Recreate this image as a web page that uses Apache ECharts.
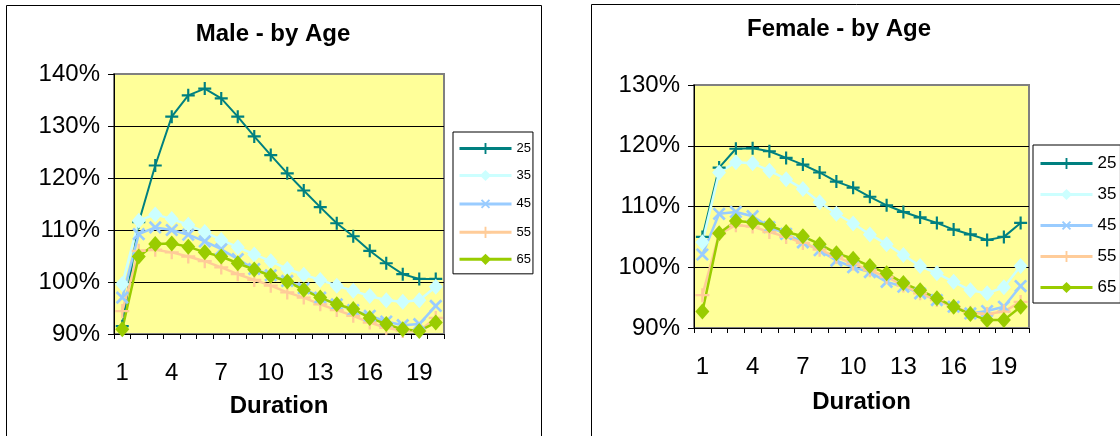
<!DOCTYPE html>
<html>
<head>
<meta charset="utf-8">
<script src="https://cdn.jsdelivr.net/npm/echarts@6/dist/echarts.min.js"></script>
<style>
  html, body { margin: 0; padding: 0; background: #fff; }
  #chart { width: 1120px; height: 436px; }
</style>
</head>
<body>
<div id="chart"></div>
<script>
// ---- data ----
const categories = ['1','2','3','4','5','6','7','8','9','10','11','12','13','14','15','16','17','18','19','20'];
const ageNames = ['25', '35', '45', '55', '65'];

const male25 = [91.5, 111.5, 122.4, 131.8, 135.9, 137.2, 135.3, 131.8, 128.0, 124.4, 120.9, 117.6, 114.4, 111.3, 108.8, 106.0, 103.6, 101.5, 100.6, 100.6];
const male35 = [99.6, 111.8, 113.0, 112.1, 111.0, 109.6, 108.1, 106.7, 105.3, 104.0, 102.5, 101.4, 100.4, 99.3, 98.3, 97.3, 96.5, 96.2, 96.5, 99.1];
const male45 = [97.0, 109.2, 110.5, 110.0, 109.1, 107.8, 106.3, 104.4, 102.5, 101.3, 100.2, 98.8, 97.0, 95.7, 94.6, 93.5, 92.4, 91.7, 91.9, 95.4];
const male55 = [94.4, 106.0, 106.2, 105.7, 104.9, 104.0, 102.8, 101.5, 100.4, 99.3, 98.0, 97.0, 95.7, 94.6, 93.5, 92.2, 91.2, 90.6, 90.6, 93.1];
const male65 = [90.9, 104.9, 107.3, 107.4, 106.8, 105.7, 104.9, 103.6, 102.4, 101.2, 100.1, 98.5, 97.0, 95.7, 94.8, 93.1, 91.9, 90.9, 90.6, 92.2];

const female25 = [105.0, 116.4, 119.5, 119.6, 119.1, 118.0, 116.9, 115.6, 114.1, 113.1, 111.6, 110.2, 109.1, 108.2, 107.3, 106.2, 105.4, 104.5, 105.0, 107.3];
const female35 = [104.1, 115.6, 117.3, 117.1, 115.9, 114.5, 112.9, 110.7, 108.8, 107.2, 105.4, 103.8, 102.0, 100.2, 99.0, 97.6, 96.2, 95.7, 96.7, 100.2];
const female45 = [102.1, 108.8, 109.1, 108.4, 106.6, 105.5, 104.1, 102.8, 101.1, 100.0, 99.2, 97.6, 96.8, 95.7, 94.6, 93.5, 92.4, 92.8, 93.5, 96.9];
const female55 = [95.4, 105.5, 106.9, 106.7, 105.8, 105.0, 104.0, 102.9, 101.7, 100.6, 99.5, 98.4, 97.0, 95.7, 94.6, 93.5, 92.5, 92.3, 92.7, 94.3];
const female65 = [92.7, 105.6, 107.6, 107.4, 106.9, 105.8, 105.1, 103.8, 102.3, 101.4, 100.2, 99.0, 97.4, 96.2, 94.9, 93.5, 92.3, 91.3, 91.3, 93.5];

const maleTicks = [90, 100, 110, 120, 130, 140];
const femaleTicks = [90, 100, 110, 120, 130];

// ---- styles ----
const FONT = '"Liberation Sans", Arial, sans-serif';
const PLUS = 'path://M5,0h2v5h5v2h-5v5h-2v-5h-5v-2h5z';
const seriesStyles = [
  { color: '#008080', symbol: PLUS, size: 13, rotate: 0, width: 2 },
  { color: '#CCFFFF', symbol: 'diamond', size: [14, 16], rotate: 0, width: 2.5 },
  { color: '#99CCFF', symbol: PLUS, size: 16, rotate: 45, width: 2.5 },
  { color: '#FFCC99', symbol: PLUS, size: 14, rotate: 0, width: 2.5 },
  { color: '#99CC00', symbol: 'diamond', size: [14, 16], rotate: 0, width: 2.5 }
];
const maleData = [male25, male35, male45, male55, male65];
const femaleData = [female25, female35, female45, female55, female65];

function makeSeries(dataSets, idx) {
  return dataSets.map((d, i) => {
    const s = seriesStyles[i];
    return {
      type: 'line',
      name: ageNames[i],
      xAxisIndex: idx,
      yAxisIndex: idx,
      data: d,
      symbol: s.symbol,
      symbolSize: s.size,
      symbolRotate: s.rotate,
      showAllSymbol: true,
      clip: false,
      lineStyle: { color: s.color, width: s.width },
      itemStyle: { color: s.color },
      emphasis: { disabled: true }
    };
  });
}

function xAxisCfg(gridIndex, margin, nameGap) {
  return {
    type: 'category', gridIndex: gridIndex, data: categories, boundaryGap: true,
    axisLine: { show: true, lineStyle: { color: '#000', width: 1 } },
    axisTick: { show: true, interval: 0, length: 5, lineStyle: { color: '#000' } },
    axisLabel: { interval: 2, fontSize: 24, color: '#000', fontFamily: FONT, margin: margin },
    splitLine: { show: false },
    name: 'Duration', nameLocation: 'middle', nameGap: nameGap,
    nameTextStyle: { fontSize: 24, fontWeight: 'bold', color: '#000', fontFamily: FONT }
  };
}
function yAxisCfg(gridIndex, ticks) {
  return {
    type: 'value', gridIndex: gridIndex,
    min: ticks[0], max: ticks[ticks.length - 1], interval: ticks[1] - ticks[0],
    axisLine: { show: true, lineStyle: { color: '#000', width: 1 } },
    axisTick: { show: true, length: 6, lineStyle: { color: '#000' } },
    axisLabel: { formatter: '{value}%', fontSize: 24, color: '#000', fontFamily: FONT, margin: 14 },
    splitLine: { show: true, showMaxLine: false, showMinLine: false, lineStyle: { color: '#000', width: 1 } }
  };
}
function legendCfg(left, top, fontSize, itemHeight, itemGap, padding) {
  return {
    orient: 'vertical', left: left, top: top,
    data: ageNames,
    itemWidth: 52, itemHeight: itemHeight, itemGap: itemGap,
    padding: padding,
    borderColor: '#000', borderWidth: 1,
    selectedMode: false,
    lineStyle: { width: 3 },
    textStyle: { fontSize: fontSize, color: '#000', fontFamily: FONT }
  };
}

const chart = echarts.init(document.getElementById('chart'), null, { renderer: 'canvas' });
const option = {
  animation: false,
  backgroundColor: '#fff',
  graphic: [
    { type: 'rect', shape: { x: 6.5, y: 5.5, width: 535, height: 500 }, style: { fill: 'none', stroke: '#000', lineWidth: 1 }, z: -10, silent: true },
    { type: 'rect', shape: { x: 591.5, y: 4.5, width: 600, height: 500 }, style: { fill: 'none', stroke: '#000', lineWidth: 1 }, z: -10, silent: true }
  ],
  title: [
    { text: 'Male - by Age', left: 273, top: 22, textAlign: 'center', padding: 0,
      textStyle: { fontSize: 24, fontWeight: 'bold', color: '#000', fontFamily: FONT } },
    { text: 'Female - by Age', left: 839, top: 17, textAlign: 'center', padding: 0,
      textStyle: { fontSize: 24, fontWeight: 'bold', color: '#000', fontFamily: FONT } }
  ],
  legend: [
    legendCfg(453, 132, 13, 14, 14, [10, 2, 8, 5]),
    legendCfg(1033, 145, 17, 14, 14, [10, 4, 7, 6])
  ],
  grid: [
    { left: 114, top: 74, width: 330, height: 260, show: true, backgroundColor: '#FFFF99', borderColor: '#808080', borderWidth: 2 },
    { left: 694, top: 85, width: 335, height: 243, show: true, backgroundColor: '#FFFF99', borderColor: '#808080', borderWidth: 2 }
  ],
  xAxis: [xAxisCfg(0, 27, 60), xAxisCfg(1, 27, 62)],
  yAxis: [yAxisCfg(0, maleTicks), yAxisCfg(1, femaleTicks)],
  series: makeSeries(maleData, 0).concat(makeSeries(femaleData, 1))
};
chart.setOption(option);
</script>
</body>
</html>
